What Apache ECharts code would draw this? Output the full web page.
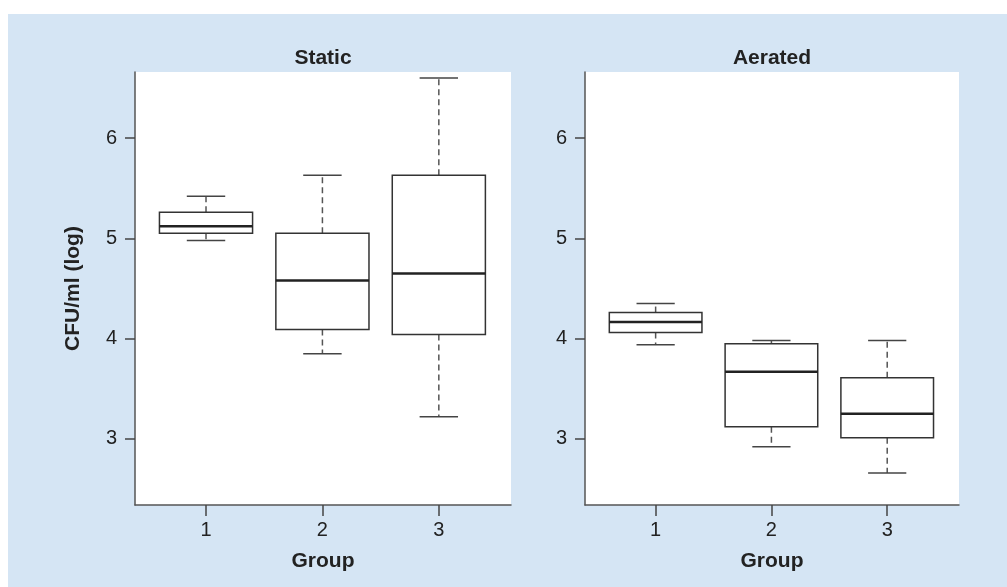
<!DOCTYPE html>
<html>
<head>
<meta charset="utf-8">
<script src="https://cdn.jsdelivr.net/npm/echarts@6/dist/echarts.min.js"></script>
<style>
  html, body { margin: 0; padding: 0; background: #fff; }
  #chart { width: 1007px; height: 587px; }
</style>
</head>
<body>
<div id="chart"></div>
<script>
// group labels on the x axis
const groups = [1, 2, 3]
const yTicks = [3, 4, 5, 6]
// [min, q1, median, q3, max] per group, CFU/ml (log)
const staticStats = [
  [4.98, 5.05, 5.12, 5.26, 5.42],
  [3.85, 4.09, 4.58, 5.05, 5.63],
  [3.22, 4.04, 4.65, 5.63, 6.60],
]
const aeratedStats = [
  [3.94, 4.06, 4.165, 4.26, 4.35],
  [2.92, 3.12, 3.67, 3.95, 3.98],
  [2.66, 3.01, 3.25, 3.61, 3.98],
]
const panelTitles = ['Static', 'Aerated']

const FONT = "'Liberation Sans', Arial, Helvetica, sans-serif"
const BOX_W = 0.8
const CAP_W = 0.33
const INK = '#333'

function renderBox(params, api) {
  const x = api.value(0)
  const pMin = api.coord([x, api.value(1)])
  const pQ1 = api.coord([x, api.value(2)])
  const pMed = api.coord([x, api.value(3)])
  const pQ3 = api.coord([x, api.value(4)])
  const pMax = api.coord([x, api.value(5)])
  const halfBox = api.size([BOX_W, 0])[0] / 2
  const halfCap = api.size([CAP_W, 0])[0] / 2
  const cx = pMed[0]
  const dash = { stroke: '#555', lineWidth: 1.5, lineDash: [6, 4] }
  const solid = { stroke: '#444', lineWidth: 1.5 }
  return {
    type: 'group',
    children: [
      { type: 'line', shape: { x1: cx, y1: pQ3[1], x2: cx, y2: pMax[1] }, style: dash },
      { type: 'line', shape: { x1: cx, y1: pQ1[1], x2: cx, y2: pMin[1] }, style: dash },
      { type: 'line', shape: { x1: cx - halfCap, y1: pMax[1], x2: cx + halfCap, y2: pMax[1] }, style: solid },
      { type: 'line', shape: { x1: cx - halfCap, y1: pMin[1], x2: cx + halfCap, y2: pMin[1] }, style: solid },
      {
        type: 'rect',
        shape: { x: cx - halfBox, y: pQ3[1], width: halfBox * 2, height: pQ1[1] - pQ3[1] },
        style: { fill: '#fff', stroke: INK, lineWidth: 1.5 },
      },
      { type: 'line', shape: { x1: cx - halfBox, y1: pMed[1], x2: cx + halfBox, y2: pMed[1] }, style: { stroke: '#222', lineWidth: 2.5 } },
    ],
  }
}

function toRows(stats) {
  return stats.map((s, i) => [groups[i], ...s])
}

const grids = [
  { left: 135, top: 72, width: 376, height: 433 },
  { left: 585, top: 72, width: 374, height: 433 },
]

function xAxis(i) {
  return {
    type: 'value', gridIndex: i, min: 0.39, max: 3.62,
    name: 'Group', nameLocation: 'middle', nameGap: 46,
    nameTextStyle: { fontFamily: FONT, fontSize: 21, fontWeight: 'bold', color: '#222' },
    axisLine: { show: true, onZero: false, lineStyle: { color: '#555', width: 1.5 } },
    axisTick: { show: true, length: 11, customValues: groups, lineStyle: { color: '#444', width: 1.5 } },
    axisLabel: { customValues: groups, margin: 15, fontFamily: FONT, fontSize: 20, color: '#222' },
    splitLine: { show: false },
  }
}

function yAxis(i) {
  return {
    type: 'value', gridIndex: i, min: 2.34, max: 6.66,
    name: i === 0 ? 'CFU/ml (log)' : '', nameLocation: 'middle', nameGap: 51,
    nameTextStyle: { fontFamily: FONT, fontSize: 21, fontWeight: 'bold', color: '#222' },
    axisLine: { show: true, onZero: false, lineStyle: { color: '#555', width: 1.5 } },
    axisTick: { show: true, length: 10, customValues: yTicks, lineStyle: { color: '#444', width: 1.5 } },
    axisLabel: { customValues: yTicks, margin: 18, fontFamily: FONT, fontSize: 20, color: '#222' },
    splitLine: { show: false },
  }
}

const chart = echarts.init(document.getElementById('chart'))
chart.setOption({
  animation: false,
  backgroundColor: '#fff',
  graphic: [{
    type: 'rect', left: 8, top: 14, z: -10,
    shape: { width: 999, height: 573 },
    style: { fill: '#d5e5f4' },
  }],
  title: panelTitles.map((t, i) => ({
    text: t,
    left: grids[i].left + grids[i].width / 2,
    top: 48,
    textAlign: 'center',
    padding: 0,
    textStyle: { fontFamily: FONT, fontSize: 21, fontWeight: 'bold', color: '#222' },
  })),
  grid: grids.map(g => ({ ...g, show: true, backgroundColor: '#fff', borderWidth: 0 })),
  xAxis: [xAxis(0), xAxis(1)],
  yAxis: [yAxis(0), yAxis(1)],
  series: [staticStats, aeratedStats].map((stats, i) => ({
    type: 'custom',
    xAxisIndex: i,
    yAxisIndex: i,
    renderItem: renderBox,
    encode: { x: 0, y: [1, 2, 3, 4, 5] },
    data: toRows(stats),
  })),
})
</script>
</body>
</html>
